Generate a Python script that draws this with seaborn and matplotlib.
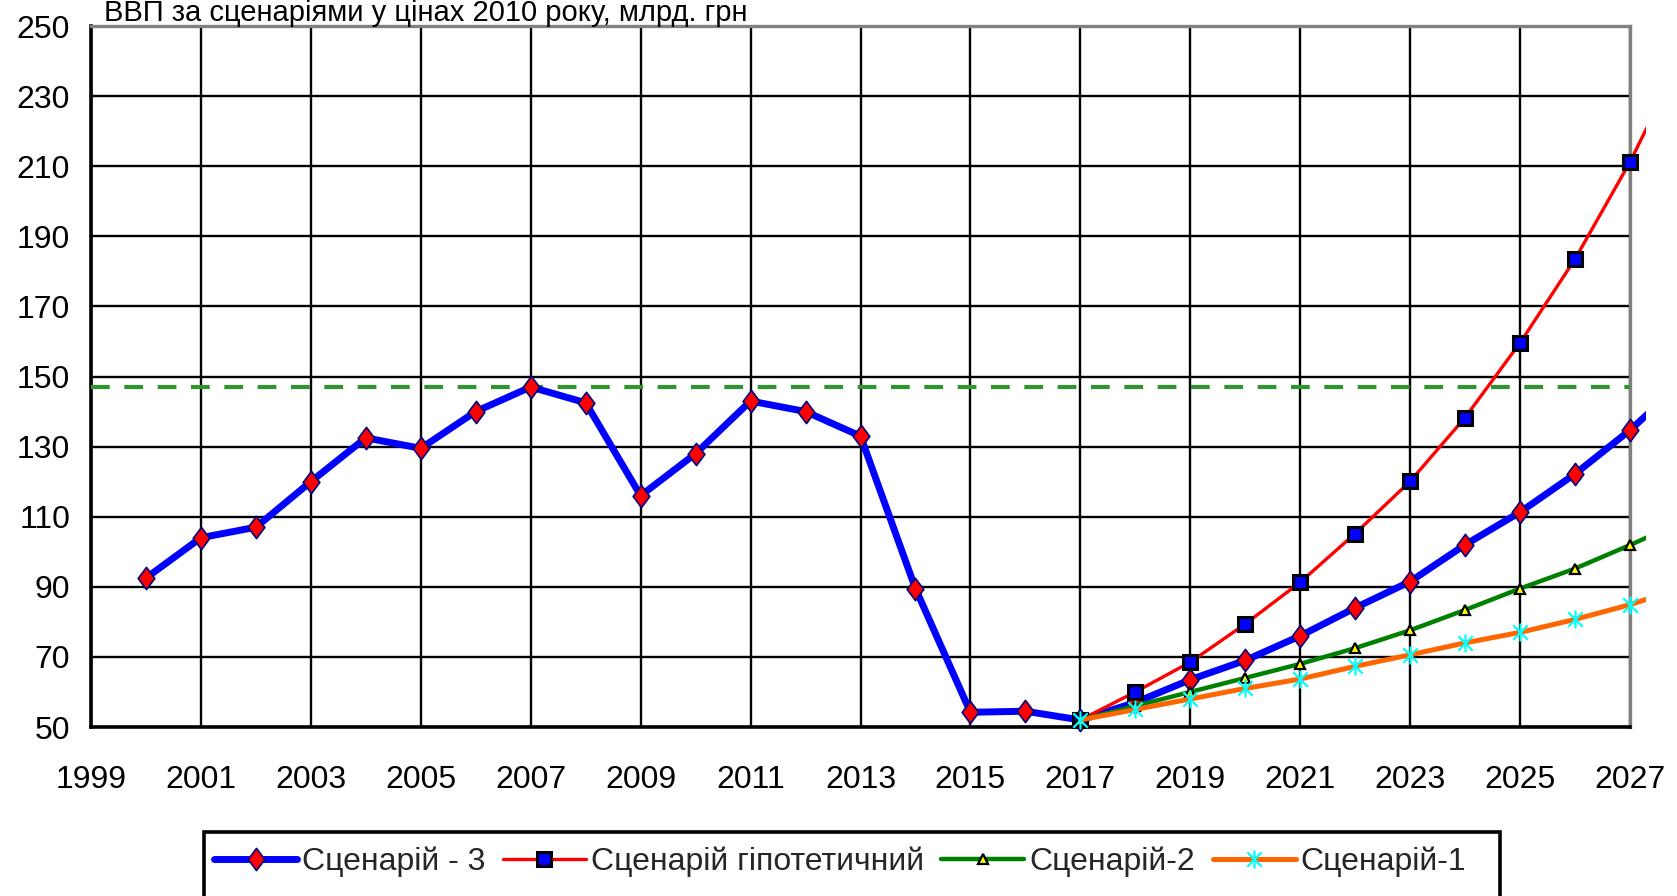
import matplotlib
matplotlib.use("Agg")
import matplotlib.pyplot as plt
import seaborn as sns
import numpy as np
import pandas as pd
from matplotlib.path import Path
from matplotlib.transforms import Bbox, TransformedBbox
from matplotlib.patches import Rectangle

# ---------------- data ----------------
title = "ВВП за сценаріями у цінах 2010 року, млрд. грн"
series_names = ["Сценарій - 3", "Сценарій гіпотетичний", "Сценарій-2", "Сценарій-1"]

years_hist = list(range(2000, 2018))
s3_hist = [92.5, 104, 107, 120, 132.5, 129.5, 140, 147, 142.5, 116, 128, 143,
           140, 133, 89.5, 54.2, 54.5, 52]

# forecast years (2028 only shows as the line running past the right edge)
years_fc = list(range(2017, 2029))
s3_fc = [52, 57, 63.5, 69, 76, 84, 91.5, 102, 111.3, 122.2, 134.7, 149]
hyp_fc = [52, 60, 68.5, 79.4, 91.3, 105.2, 120.1, 138.3, 159.6, 183.5, 211.2, 243]
s2_fc = [52, 56, 60, 64, 68, 72.5, 77.6, 83.4, 89.5, 95.2, 101.9, 109]
s1_fc = [52, 55, 58, 61, 63.7, 67.3, 70.6, 74, 77, 80.7, 84.9, 90]

peak_level = 147

xticks = list(range(1999, 2028, 2))
yticks = list(range(50, 251, 20))

# ---------------- figure ----------------
sns.set_theme(style="white")
plt.rcParams["font.family"] = ["Liberation Sans", "DejaVu Sans"]

W, H = 1677, 896
fig = plt.figure(figsize=(W / 100, H / 100), dpi=100)
ax_l, ax_r, ax_t, ax_b = 91, 1630, 26, 727
ax = fig.add_axes([ax_l / W, 1 - ax_b / H, (ax_r - ax_l) / W, (ax_b - ax_t) / H])

s3_years = years_hist + years_fc[1:]
s3_vals = s3_hist + s3_fc[1:]

# asterisk-like marker (X plus vertical bar)
star = Path([(-1, -1), (1, 1), (-1, 1), (1, -1), (0, -1.25), (0, 1.25)],
            [Path.MOVETO, Path.LINETO] * 3)
# slightly tall diamond marker
tall_diamond = Path([(0, 1), (0.75, 0), (0, -1), (-0.75, 0), (0, 1)],
                    [Path.MOVETO, Path.LINETO, Path.LINETO, Path.LINETO, Path.CLOSEPOLY])

handles = []

sns.lineplot(x=s3_years, y=s3_vals, ax=ax, sort=False, errorbar=None,
             color="#0000FF", lw=5, marker=tall_diamond, markersize=16,
             markerfacecolor="#FF0000", markeredgecolor="#000080",
             markeredgewidth=1.2, zorder=3)
handles.append(ax.lines[-1])

sns.lineplot(x=years_fc, y=hyp_fc, ax=ax, sort=False, errorbar=None,
             color="#FF0000", lw=2.4, marker="s", markersize=10.5,
             markerfacecolor="#0000FF", markeredgecolor="#000000",
             markeredgewidth=2.2, zorder=4)
handles.append(ax.lines[-1])

sns.lineplot(x=years_fc, y=s2_fc, ax=ax, sort=False, errorbar=None,
             color="#008000", lw=3.2, marker="^", markersize=7,
             markerfacecolor="#FFFF00", markeredgecolor="#000000",
             markeredgewidth=1.6, zorder=5)
handles.append(ax.lines[-1])

sns.lineplot(x=years_fc, y=s1_fc, ax=ax, sort=False, errorbar=None,
             color="#FF6600", lw=3.6, marker=star, markersize=13,
             markerfacecolor="none", markeredgecolor="#00FFFF",
             markeredgewidth=1.6, zorder=6)
handles.append(ax.lines[-1])

ax.axhline(peak_level, color="#2f962f", lw=3, dashes=(4.5, 3.5), zorder=2.6)

ax.set_xlim(xticks[0], xticks[-1])
ax.set_ylim(yticks[0], yticks[-1])

# let the lines run slightly past the right frame, like in the original
clip = TransformedBbox(Bbox([[xticks[0], 40], [xticks[-1] + 0.3, 260]]), ax.transData)
for ln in handles:
    ln.set_clip_path(None)
    ln.set_clip_box(clip)

ax.set_xticks(xticks)
ax.set_yticks(yticks)
ax.set_xticklabels([str(v) for v in xticks])
ax.set_yticklabels([str(v) for v in yticks])
ax.set_xlabel("")
ax.set_ylabel("")

ax.set_axisbelow(True)
ax.grid(True, color="black", lw=1.7)

for side in ["left", "bottom"]:
    ax.spines[side].set_color("black")
    ax.spines[side].set_linewidth(2.6)
for side in ["top", "right"]:
    ax.spines[side].set_color("#808080")
    ax.spines[side].set_linewidth(2.4)

ax.tick_params(axis="both", direction="out", length=6, width=2, color="black",
               labelsize=23, labelcolor="black")
ax.tick_params(axis="x", pad=21)
ax.tick_params(axis="y", pad=9)

# title (sits right at the top edge, above the plot frame)
fig.text(104 / W, 1 - 21 / H, title, fontsize=21, va="baseline", ha="left", color="black")

# legend
fig.legend(handles, series_names, loc="center left",
           bbox_to_anchor=(214 / W, 1 - 862 / H), ncol=4, frameon=False,
           fontsize=23, handlelength=2.6, handletextpad=0.15,
           columnspacing=0.55, borderpad=0, borderaxespad=0)
fig.add_artist(Rectangle((204 / W, -0.05), (1500 - 204) / W, (1 - 832 / H) + 0.05,
                         transform=fig.transFigure, fill=False, lw=2.6,
                         ec="black", clip_on=False))

fig.savefig("out.png", dpi=100)
